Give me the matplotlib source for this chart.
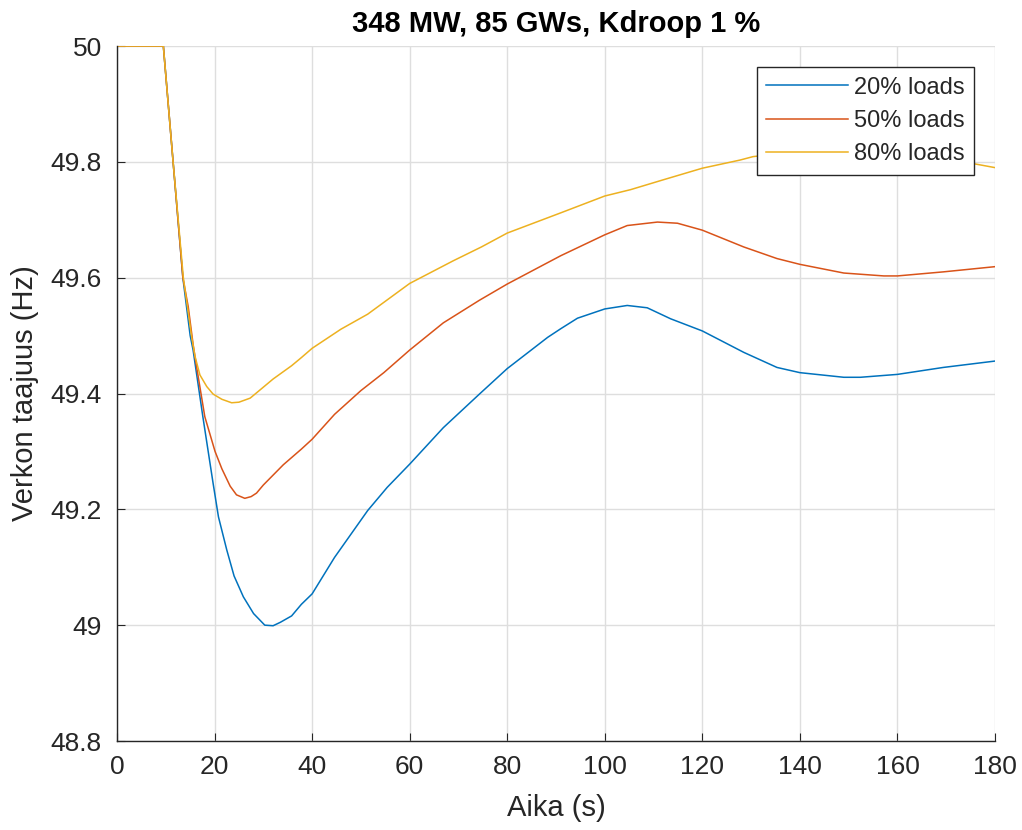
import matplotlib
matplotlib.use("Agg")
import matplotlib.pyplot as plt

# ---- data ----
t_20 = [0, 9.5, 13.5, 15.0, 15.6, 17.6, 19.7, 20.8, 22.5, 24.0, 25.9, 28.0, 30.3, 32.0,
        33.5, 35.8, 37.8, 40.0, 44.6, 51.4, 55.4, 60.0, 66.9, 74.3, 80.0, 88.3, 91.0,
        94.4, 100.0, 104.6, 108.7, 113.5, 120.0, 128.5, 135.3, 140.0, 149.0, 152.4,
        160.0, 169.4, 180.0]
f_20 = [50.0, 50.0, 49.60, 49.50, 49.475, 49.36, 49.245, 49.187, 49.13, 49.085, 49.049,
        49.02, 49.0, 48.999, 49.005, 49.016, 49.036, 49.054, 49.117, 49.198, 49.238,
        49.278, 49.341, 49.399, 49.443, 49.497, 49.512, 49.530, 49.546, 49.552, 49.548,
        49.529, 49.508, 49.471, 49.445, 49.436, 49.428, 49.428, 49.433, 49.445, 49.456]

t_50 = [0, 9.5, 13.5, 14.6, 15.6, 16.2, 18.0, 20.1, 21.5, 23.2, 24.5, 26.2, 27.5, 28.6,
        30.0, 34.1, 37.8, 40.0, 44.6, 50.0, 54.7, 60.0, 66.9, 74.3, 80.0, 88.3, 91.0,
        100.0, 104.6, 110.8, 114.9, 120.0, 128.5, 135.3, 140.0, 149.0, 157.2, 160.0,
        169.4, 180.0]
f_50 = [50.0, 50.0, 49.60, 49.55, 49.485, 49.452, 49.36, 49.30, 49.27, 49.24, 49.225,
        49.219, 49.222, 49.228, 49.242, 49.277, 49.304, 49.321, 49.364, 49.405, 49.436,
        49.475, 49.522, 49.561, 49.589, 49.626, 49.638, 49.674, 49.690, 49.696, 49.694,
        49.682, 49.653, 49.633, 49.623, 49.608, 49.603, 49.603, 49.610, 49.619]

t_80 = [0, 9.5, 11.5, 13.6, 15.3, 16.0, 17.0, 18.4, 19.7, 21.5, 23.5, 25.0, 27.3, 29.3,
        32.0, 35.8, 37.8, 40.0, 45.9, 51.4, 60.0, 68.9, 74.7, 80.0, 91.0, 100.0, 105.3,
        112.0, 120.0, 127.7, 130.4, 140.0, 150.0, 160.0, 170.0, 175.5, 180.0]
f_80 = [50.0, 50.0, 49.80, 49.60, 49.498, 49.464, 49.432, 49.412, 49.399, 49.390,
        49.384, 49.385, 49.392, 49.406, 49.425, 49.448, 49.462, 49.478, 49.511, 49.537,
        49.590, 49.629, 49.653, 49.677, 49.712, 49.741, 49.752, 49.769, 49.789, 49.803,
        49.809, 49.818, 49.820, 49.815, 49.806, 49.797, 49.790]

labels = ["20% loads", "50% loads", "80% loads"]
colors = ["#0072BD", "#D95319", "#EDB120"]
x_ticks = [0, 20, 40, 60, 80, 100, 120, 140, 160, 180]
y_ticks = [48.8, 49.0, 49.2, 49.4, 49.6, 49.8, 50.0]
y_tick_labels = ["48.8", "49", "49.2", "49.4", "49.6", "49.8", "50"]

plt.rcParams["font.family"] = ["Liberation Sans", "DejaVu Sans"]
dark = "#262626"

fig = plt.figure(figsize=(10.22, 8.30), dpi=100)
ax = fig.add_axes([117 / 1022, 89 / 830, (995 - 117) / 1022, (741 - 46) / 830])

for t, f, lab, c in zip([t_20, t_50, t_80], [f_20, f_50, f_80], labels, colors):
    ax.plot(t, f, color=c, lw=1.1, label=lab)

ax.set_xlim(0, 180)
ax.set_ylim(48.8, 50.0)
ax.set_xticks(x_ticks)
ax.set_yticks(y_ticks)
ax.set_yticklabels(y_tick_labels)

ax.grid(True, color="#dedede", lw=1.0)
ax.set_axisbelow(True)
for s in ["top", "right"]:
    ax.spines[s].set_visible(False)
for s in ["left", "bottom"]:
    ax.spines[s].set_color(dark)
    ax.spines[s].set_linewidth(1.0)

ax.tick_params(axis="both", direction="in", length=6, width=0.8, color=dark,
               labelcolor=dark, labelsize=19)
ax.tick_params(axis="x", pad=10)
ax.tick_params(axis="y", pad=11)

ax.set_xlabel("Aika (s)", fontsize=21, color=dark, labelpad=11)
ax.set_ylabel("Verkon taajuus (Hz)", fontsize=21, color=dark, labelpad=8)
ax.set_title("348 MW, 85 GWs, Kdroop 1 %", fontsize=21, fontweight="bold",
             color="black", pad=10)

leg = ax.legend(loc="upper right", fontsize=17, frameon=True, fancybox=False,
                edgecolor=dark, framealpha=1.0, handlelength=3.45,
                handletextpad=0.25, borderpad=0.4, labelspacing=0.48,
                borderaxespad=0.9)
leg.get_frame().set_linewidth(1.0)
for txt in leg.get_texts():
    txt.set_color(dark)

fig.savefig("out.png", dpi=100, facecolor="white")
